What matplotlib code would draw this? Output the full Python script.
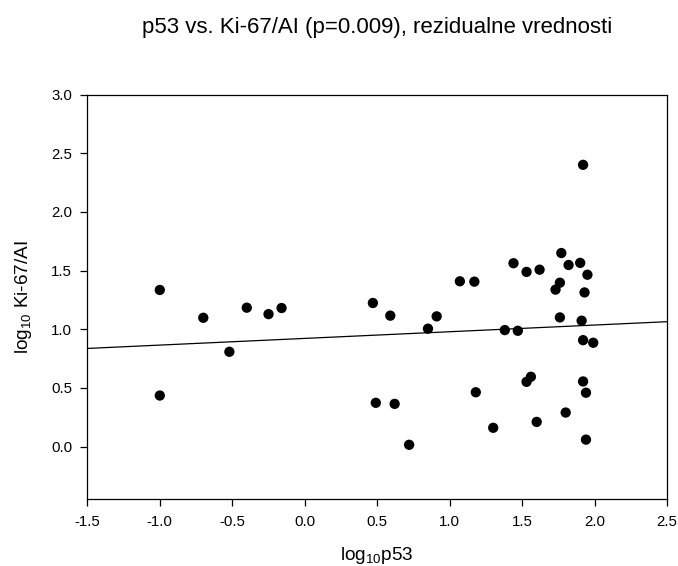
import numpy as np
import matplotlib
matplotlib.use("Agg")
import matplotlib.pyplot as plt

plt.rcParams['font.family'] = ['Liberation Sans', 'DejaVu Sans']
plt.rcParams['mathtext.default'] = 'regular'

# log10 p53 vs log10 Ki-67/AI (residual values)
p53 = [-1.00, -1.00, -0.70, -0.52, -0.40, -0.25, -0.16, 0.47, 0.49, 0.59,
       0.62, 0.72, 0.85, 0.91, 1.07, 1.17, 1.18, 1.30, 1.38, 1.44,
       1.47, 1.53, 1.53, 1.56, 1.60, 1.62, 1.73, 1.76, 1.76, 1.77,
       1.80, 1.82, 1.90, 1.91, 1.92, 1.92, 1.92, 1.93, 1.94, 1.94,
       1.95, 1.99]
ki67 = [1.335, 0.435, 1.098, 0.808, 1.184, 1.129, 1.181, 1.224, 0.373, 1.116,
        0.364, 0.015, 1.005, 1.110, 1.409, 1.406, 0.463, 0.160, 0.993, 1.563,
        0.987, 1.489, 0.552, 0.595, 0.210, 1.508, 1.338, 1.397, 1.101, 1.650,
        0.290, 1.548, 1.566, 1.073, 0.907, 0.555, 2.402, 1.314, 0.459, 0.059,
        1.465, 0.885]

# regression line shown on the chart
fit_intercept = 0.922
fit_slope = 0.057

xticks = [-1.5, -1.0, -0.5, 0.0, 0.5, 1.0, 1.5, 2.0, 2.5]
yticks = [0.0, 0.5, 1.0, 1.5, 2.0, 2.5, 3.0]

fig = plt.figure(figsize=(6.78, 5.66), dpi=100)
ax = fig.add_axes([0.1288, 0.1178, 0.984 - 0.1288, 0.8327 - 0.1178])

ax.scatter(p53, ki67, s=55, color='black', edgecolors='none', zorder=3)

xl = np.array([-1.5, 2.5])
ax.plot(xl, fit_intercept + fit_slope * xl, color='black', lw=0.9, zorder=2)

ax.set_xlim(-1.5, 2.5)
ax.set_ylim(-0.45, 3.0)
ax.set_xticks(xticks)
ax.set_xticklabels(['%.1f' % t for t in xticks])
ax.set_yticks(yticks)
ax.set_yticklabels(['%.1f' % t for t in yticks])
ax.tick_params(direction='out', length=5, width=0.9, labelsize=10.8, pad=6)
for s in ax.spines.values():
    s.set_linewidth(0.9)

ax.set_xlabel('log$_{10}$p53', fontsize=13.7, labelpad=12)
ax.set_ylabel('log$_{10}$ Ki-67/AI', fontsize=13.7, labelpad=12)
fig.text(0.556, 1 - 27 / 566, 'p53 vs. Ki-67/AI (p=0.009), rezidualne vrednosti',
         ha='center', va='center', fontsize=16)

fig.savefig('out.png', dpi=100)
